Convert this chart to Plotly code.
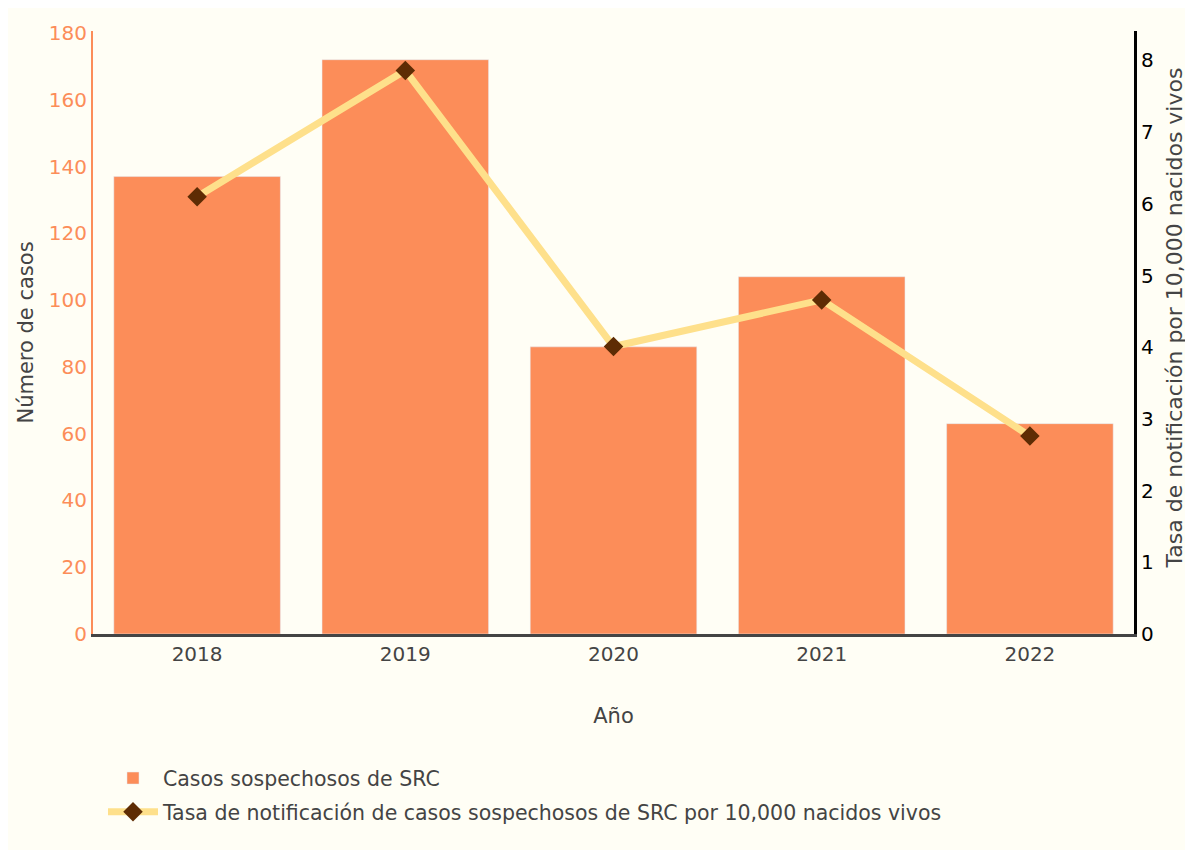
import plotly.graph_objects as go

years = ["2018", "2019", "2020", "2021", "2022"]
casos = [137, 172, 86, 107, 63]
tasa = [6.10, 7.86, 4.01, 4.66, 2.76]

bar_name = "Casos sospechosos de SRC"
line_name = "Tasa de notificación de casos sospechosos de SRC por 10,000 nacidos vivos"
y2_title = "Tasa de notificación por 10,000 nacidos vivos"

font_family = "Verdana, DejaVu Sans, sans-serif"
bar_color = "#fc8d59"

fig = go.Figure()
fig.add_trace(go.Bar(x=years, y=casos, name=bar_name, marker_color=bar_color,
                     legendgroup="a", yaxis="y"))
fig.add_trace(go.Scatter(x=years, y=tasa, name=line_name, mode="lines+markers",
                         line=dict(color="#fee08b", width=7),
                         marker=dict(symbol="diamond", size=15, color="#5e2c04"),
                         legendgroup="b", yaxis="y2"))

fig.update_layout(
    width=1183, height=845,
    paper_bgcolor="#fffef5",
    plot_bgcolor="#fffef5",
    font=dict(family=font_family, size=20, color="#444"),
    bargap=0.2,
    margin=dict(l=85, r=57, t=23, b=219, autoexpand=False),
    xaxis=dict(title=dict(text="Año", font=dict(size=21), standoff=44), showline=True, linecolor="#444",
               linewidth=3, showgrid=False, ticks="", automargin=False),
    yaxis=dict(title=dict(text="Número de casos", font=dict(size=21), standoff=9),
               range=[0, max(casos) * 1.05],
               showgrid=False, showline=True, linecolor=bar_color, linewidth=2,
               tickfont=dict(color=bar_color), zeroline=False, dtick=20, automargin=False),
    yaxis2=dict(overlaying="y", side="right", range=[0, max(tasa) * 1.07], showgrid=False,
                showline=True, linecolor="black", linewidth=3, tickfont=dict(color="black"),
                zeroline=False, dtick=1, automargin=False),
    legend=dict(orientation="v", x=0.0096, y=-0.206, xanchor="left", yanchor="top",
                bgcolor="rgba(0,0,0,0)", font=dict(size=20.5), itemwidth=50,
                traceorder="grouped", tracegroupgap=4),
    annotations=[dict(text=y2_title, xref="paper", yref="paper", x=1, y=0.5,
                      xanchor="center", yanchor="middle", xshift=40, yshift=14,
                      textangle=-90, showarrow=False, font=dict(size=22, color="#444"))],
)

fig.write_html("out.html")
